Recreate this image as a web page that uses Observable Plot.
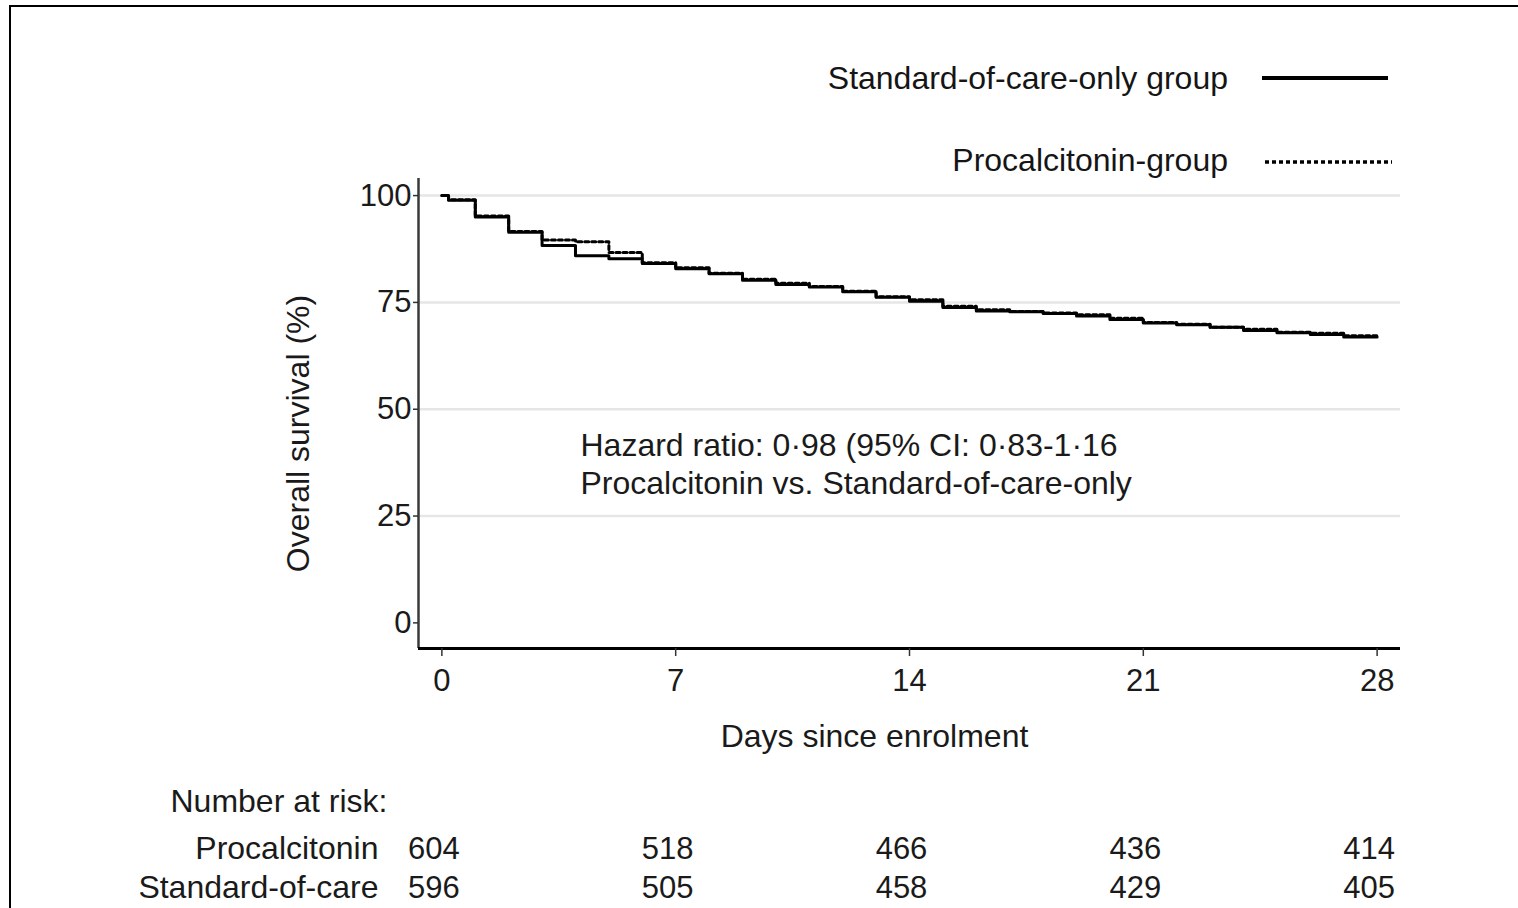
<!DOCTYPE html>
<html>
<head>
<meta charset="utf-8">
<script src="https://cdn.jsdelivr.net/npm/d3@7"></script>
<script src="https://cdn.jsdelivr.net/npm/@observablehq/plot@0.6"></script>
<style>
  body { margin: 0; background: #fff; font-family: "Liberation Sans", Arial, sans-serif; }
  #wrap { position: relative; width: 1518px; height: 908px; overflow: hidden; background: #fff; }
  #frame { position: absolute; left: 9px; top: 5px; width: 1530px; height: 920px;
           border-top: 2px solid #000; border-left: 2px solid #000; pointer-events: none; }
  #chart { position: absolute; left: 0; top: 0; }
  .legtext { position: absolute; font-size: 32px; line-height: 32px; color: #151515; white-space: nowrap; }
  .legline { position: absolute; }
</style>
</head>
<body>
<div id="wrap">
  <div id="frame"></div>
  <div id="chart"></div>
</div>
<script>
// ---- data ----
const days = [0, 0.2, 1, 2, 3, 4, 5, 6, 7, 8, 9, 10, 11, 12, 13, 14, 15, 16, 17, 18, 19, 20, 21, 22, 23, 24, 25, 26, 27, 28];
const socSurvival = [100, 98.9, 95.0, 91.4, 88.3, 85.9, 85.2, 84.1, 82.9, 81.7, 80.2, 79.2, 78.6, 77.5, 76.2, 75.3, 73.8, 73.0, 72.8, 72.4, 71.8, 71.0, 70.2, 69.8, 69.2, 68.4, 67.9, 67.5, 66.9, 66.9];
const pctSurvival = [100, 99.0, 95.2, 91.6, 89.6, 89.2, 86.7, 84.3, 83.1, 81.8, 80.4, 79.5, 78.7, 77.6, 76.3, 75.6, 74.1, 73.3, 72.9, 72.5, 72.1, 71.3, 70.3, 69.9, 69.2, 68.7, 68.0, 67.8, 67.2, 67.2];

const seriesNames = ["Standard-of-care-only group", "Procalcitonin-group"];
const seriesDash = ["none", "4,3"];

const xTicks = [0, 7, 14, 21, 28];
const yTicks = [0, 25, 50, 75, 100];
const gridValues = [25, 50, 75, 100];

const riskDays = [0, 7, 14, 21, 28];
const riskProcalcitonin = [604, 518, 466, 436, 414];
const riskStandard = [596, 505, 458, 429, 405];
const riskRowLabels = ["Procalcitonin", "Standard-of-care"];

const xLabel = "Days since enrolment";
const yLabel = "Overall survival (%)";
const riskTitle = "Number at risk:";
const hazardText = "Hazard ratio: 0·98 (95% CI: 0·83-1·16\nProcalcitonin vs. Standard-of-care-only";

// ---- build tables ----
const socData = days.map((d, i) => ({day: d, s: socSurvival[i]}));
const pctData = days.map((d, i) => ({day: d, s: pctSurvival[i]}));

const ink = "#1a1a1a";
const chart = Plot.plot({
  width: 1518,
  height: 908,
  marginLeft: 418,
  marginRight: 118,
  marginTop: 178,
  marginBottom: 260,
  style: {fontFamily: '"Liberation Sans", Arial, sans-serif', fontSize: "31px", color: ink, background: "transparent", overflow: "visible"},
  x: {domain: [-0.7, 28.7]},
  y: {domain: [-6, 104]},
  marks: [
    Plot.ruleY(gridValues, {stroke: "#e6e6e6", strokeWidth: 2.5}),
    Plot.ruleX([-0.7], {stroke: "#3a3a3a", strokeWidth: 2.5}),
    Plot.ruleY([-6], {stroke: "#000", strokeWidth: 3}),
    Plot.axisY({ticks: yTicks, tickSize: 5, tickPadding: 2, label: null, fontSize: 31, stroke: "#333", strokeWidth: 1.5, fill: ink}),
    Plot.axisX({ticks: xTicks, tickSize: 8, tickPadding: 12, label: null, fontSize: 31, stroke: "#333", strokeWidth: 1.5, fill: ink}),
    Plot.line(pctData, {x: "day", y: "s", curve: "step-after", stroke: "#000", strokeWidth: 3, strokeDasharray: "4,3"}),
    Plot.line(socData, {x: "day", y: "s", curve: "step-after", stroke: "#000", strokeWidth: 3}),
    Plot.text([hazardText], {frameAnchor: "top-left", dx: 162, dy: 250, lineAnchor: "top", textAnchor: "start", fontSize: 32, lineHeight: 1.19, fill: ink}),
    Plot.text([yLabel], {frameAnchor: "left", textAnchor: "middle", rotate: -90, dx: -120, dy: 20, fontSize: 32, fill: ink}),
    Plot.text([xLabel], {frameAnchor: "bottom", dx: -35, dy: 98, fontSize: 32, fill: ink}),
    Plot.text([riskTitle], {frameAnchor: "bottom-left", dx: -248, dy: 163, textAnchor: "start", fontSize: 32, fill: ink}),
    Plot.text([riskRowLabels[0]], {frameAnchor: "bottom-left", dx: -40, dy: 210, textAnchor: "end", fontSize: 32, fill: ink}),
    Plot.text([riskRowLabels[1]], {frameAnchor: "bottom-left", dx: -40, dy: 249, textAnchor: "end", fontSize: 32, fill: ink}),
    Plot.text(riskDays, {x: d => d, text: (d, i) => String(riskProcalcitonin[i]), frameAnchor: "bottom", dx: -8, dy: 210, fontSize: 31, fill: ink}),
    Plot.text(riskDays, {x: d => d, text: (d, i) => String(riskStandard[i]), frameAnchor: "bottom", dx: -8, dy: 249, fontSize: 31, fill: ink})
  ]
});
document.getElementById("chart").appendChild(chart);

// ---- legend (HTML overlay) ----
const wrap = document.getElementById("wrap");
const legTops = [62, 144];
const legLineY = [78, 162];
seriesNames.forEach((name, i) => {
  const t = document.createElement("div");
  t.className = "legtext";
  t.style.right = (1518 - 1228) + "px";
  t.style.top = legTops[i] + "px";
  t.textContent = name;
  wrap.appendChild(t);
  const ns = "http://www.w3.org/2000/svg";
  const s = document.createElementNS(ns, "svg");
  s.setAttribute("class", "legline");
  s.setAttribute("width", 132);
  s.setAttribute("height", 10);
  s.style.left = "1262px";
  s.style.top = (legLineY[i] - 5) + "px";
  const l = document.createElementNS(ns, "line");
  l.setAttribute("x1", i === 0 ? 0 : 3);
  l.setAttribute("x2", i === 0 ? 126 : 130);
  l.setAttribute("y1", 5);
  l.setAttribute("y2", 5);
  l.setAttribute("stroke", "#000");
  l.setAttribute("stroke-width", i === 0 ? 4 : 3.5);
  if (seriesDash[i] !== "none") l.setAttribute("stroke-dasharray", seriesDash[i]);
  s.appendChild(l);
  wrap.appendChild(s);
});
</script>
</body>
</html>
